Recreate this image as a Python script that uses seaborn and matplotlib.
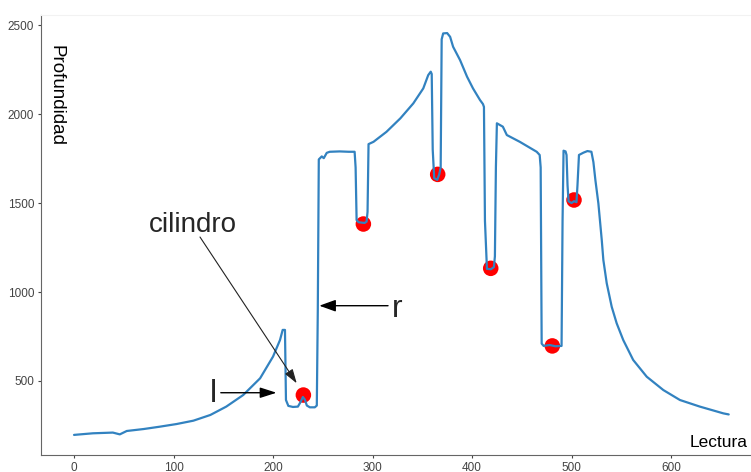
"""Perfil de profundidad por lectura con los cilindros marcados."""

import matplotlib
matplotlib.use("Agg")
import matplotlib.pyplot as plt
import seaborn as sns

# lecturas del sensor (x) y profundidad medida (y)
lectura = [0, 19, 39, 46, 53, 70, 86, 103, 120, 137, 153, 170, 187, 200, 207,
           209.7, 212, 213, 215.4, 220, 225, 228, 230, 232, 234,
           237, 242, 244, 245, 246, 249, 251, 254, 257, 267, 276, 282, 283, 284,
           286, 292, 294, 295, 296, 301, 314, 328, 341, 351, 356, 358.5, 359.5,
           360.5, 362, 365, 367, 368.5, 369.5, 371, 375, 378, 381, 388, 395, 401,
           408, 411, 412, 413, 415, 419, 422, 423, 424, 425, 431, 435, 448, 465,
           468, 469, 470, 472, 478, 484, 490, 491, 492, 494, 495, 496, 497, 500,
           502.5, 505, 506, 507.5, 512, 516, 520, 522, 524, 527, 530.4, 532,
           535.4, 540.4, 545.4, 552, 562, 575.6, 592.3, 609, 629, 652.6, 658]
profundidad = [197, 206, 210, 200, 219, 230, 243, 258, 277, 309, 356, 421, 515,
               637, 730, 787, 787, 393, 360, 354, 356, 385,
               410, 395, 362, 352, 352, 362, 900, 1745, 1762, 1752, 1782, 1788,
               1790, 1788, 1788, 1700, 1404, 1392, 1388, 1395, 1450, 1831, 1844,
               1900, 1976, 2060, 2144, 2219, 2238, 2225, 1800, 1640, 1630, 1660,
               1700, 2420, 2453, 2455, 2434, 2378, 2303, 2210, 2144, 2079, 2056,
               2040, 1400, 1130, 1128, 1140, 1200, 1700, 1948, 1929, 1882, 1844,
               1788, 1770, 1700, 710, 697, 702, 695, 697, 1400, 1794, 1790, 1770,
               1600, 1510, 1500, 1510, 1505, 1600, 1770, 1783, 1792, 1788, 1730,
               1629, 1498, 1292, 1180, 1049, 917, 824, 730, 618, 524, 449, 393,
               356, 318, 312]

# centros de los cilindros detectados
cil_x = [230.5, 290.8, 365.5, 418.8, 480.7, 502.5]
cil_y = [421, 1382, 1661, 1133, 697, 1517]

sns.set_style("ticks")
plt.rcParams["font.family"] = ["Liberation Sans", "DejaVu Sans"]

fig = plt.figure(figsize=(7.51, 4.72), dpi=100)
ax = fig.add_axes([0.0546, 0.036, 0.9454, 0.932])

sns.scatterplot(x=cil_x, y=cil_y, ax=ax, color="#ff0000", s=125,
                edgecolor="none", zorder=2, legend=False)
sns.lineplot(x=lectura, y=profundidad, ax=ax, color="#3282c0", linewidth=1.6,
             estimator=None, sort=False, zorder=3)

ax.set_xlim(-33.2, 680.4)
ax.set_ylim(84, 2556)
ax.set_xticks([0, 100, 200, 300, 400, 500, 600])
ax.set_yticks([500, 1000, 1500, 2000, 2500])
ax.tick_params(labelsize=8.5, colors="#444444", length=2.5, width=0.8, pad=2.5)
for side in ["left", "bottom"]:
    ax.spines[side].set_color("#666666")
ax.spines["right"].set_visible(False)
ax.spines["top"].set_color("#f2f2f2")

# rotulos de los ejes dentro del area
ax.text(-18, 2388, "Profundidad", rotation=270, ha="center", va="top",
        fontsize=13.5, color="black")
ax.text(677.4, 131, "Lectura", ha="right", va="baseline", fontsize=12.5,
        color="black")

# anotaciones
ax.text(75.4, 1335, "cilindro", ha="left", va="baseline", fontsize=20)
ax.annotate("", xy=(223.8, 487), xytext=(126.6, 1309),
            arrowprops=dict(arrowstyle="-|>,head_length=1.0,head_width=0.32",
                            mutation_scale=8.6, color="#222222", lw=0.8,
                            shrinkA=0, shrinkB=0))
ax.text(136.7, 384, "l", ha="left", va="baseline", fontsize=23)
ax.annotate("", xy=(203.5, 434), xytext=(147.5, 434),
            arrowprops=dict(arrowstyle="-|>,head_length=1.0,head_width=0.32",
                            mutation_scale=10, color="black", lw=1.0,
                            shrinkA=0, shrinkB=0))
ax.text(319, 860, "r", ha="left", va="baseline", fontsize=23)
ax.annotate("", xy=(246.5, 923), xytext=(315.6, 923),
            arrowprops=dict(arrowstyle="-|>,head_length=1.0,head_width=0.36",
                            mutation_scale=10, color="black", lw=1.0,
                            shrinkA=0, shrinkB=0))

fig.savefig("out.png", dpi=100)
plt.close(fig)
